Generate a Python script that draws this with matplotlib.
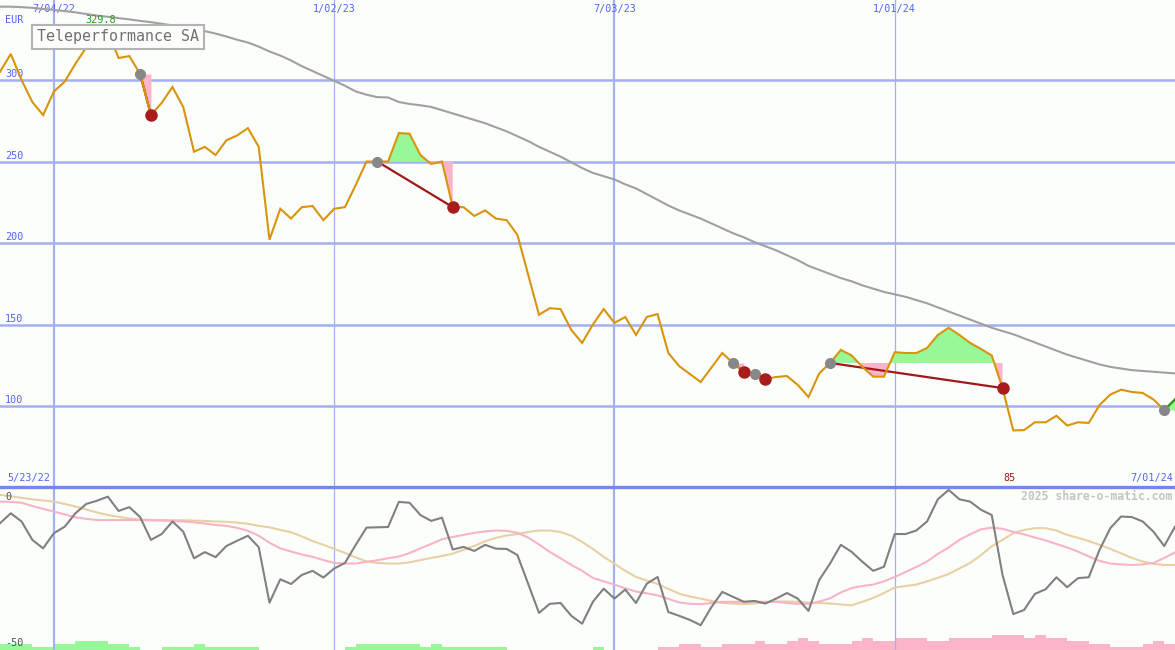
import matplotlib
matplotlib.use('Agg')
import matplotlib.pyplot as plt
import pandas as pd

# ---------------- data ----------------
weeks = pd.date_range('2022-05-30', periods=110, freq='W-MON')

price = [305, 316, 300, 286.5, 278.5, 293, 299, 310, 320, 324.5,
         329.8, 313.5, 314.7, 303.7, 278.5, 286, 295.7, 283.4, 256, 259,
         254, 263, 266, 270.5, 259, 202, 221, 215, 222, 222.7,
         214, 221, 222, 235.6, 250, 250, 250, 267.5, 267, 254,
         248.5, 250, 222, 222, 216.6, 220, 215, 214, 205, 180.5,
         156, 160, 159.5, 146.6, 138.7, 150, 159.5, 151, 154.6, 143.6,
         154.6, 156.4, 132.5, 124.5, 119.6, 114.7, 123.6, 132.5, 126.4, 121,
         119.6, 116.6, 117.8, 118.4, 113, 105.5, 120, 126.4, 134.4, 131,
         124, 118, 118, 133, 132.5, 132.5, 135.6, 143.6, 148, 143.6,
         138.7, 135, 131, 111, 85.0, 85.2, 90, 90, 94, 88,
         90, 89.6, 100.6, 107, 110, 108.6, 108, 104, 97.5, 104]

ma_long = [345, 345, 344.7, 344.3, 343.6, 343, 342.3, 341.5, 340.5, 339.5,
           338.8, 338, 337.2, 336.3, 335.5, 334.5, 333.5, 332.5, 331.3, 330,
           328.5, 326.7, 324.7, 323, 320.5, 317.5, 315, 312, 308.5, 305.5,
           302.5, 299.5, 296.5, 293, 291, 289.5, 289.3, 286.5, 285.3, 284.5,
           283.5, 281.5, 279.5, 277.5, 275.5, 273.5, 271, 268.5, 265.5, 262.5,
           259, 256, 253, 249.5, 246, 243, 241, 239, 236, 233.5,
           230, 226.5, 223, 220, 217.5, 215, 212, 209, 206, 203.5,
           200.5, 198, 195.5, 192.5, 189.5, 186, 183.5, 181, 178.5, 176.5,
           174, 172, 170, 168.5, 167, 165, 163, 160.5, 158, 155.5,
           153, 150.5, 148, 146, 144, 141.5, 139, 136.5, 134, 131.5,
           129.5, 127.5, 125.5, 124, 123, 122, 121.5, 121, 120.5, 120]

osc = [-7.3, -3.9, -6.7, -13.0, -15.9, -10.7, -8.5, -3.9, -0.7, 0.4,
       1.8, -3.1, -1.8, -5.2, -13.0, -11.0, -6.7, -10.2, -19.3, -17.2,
       -18.9, -15.1, -13.3, -11.6, -15.5, -34.5, -26.5, -28.1, -25.0, -23.6,
       -25.9, -22.8, -20.9, -14.7, -8.8, -8.7, -8.6, 0.0, -0.3, -4.5,
       -6.5, -5.4, -16.3, -15.4, -16.8, -14.7, -16.0, -16.1, -18.2, -28.1,
       -38.0, -34.9, -34.6, -39.0, -41.7, -34.2, -29.7, -33.1, -30.0, -34.6,
       -28.0, -25.7, -37.7, -39.0, -40.4, -42.2, -36.0, -30.8, -32.5, -34.2,
       -33.9, -34.8, -33.1, -31.2, -33.1, -37.3, -26.7, -21.1, -14.7, -17.1,
       -20.5, -23.6, -22.2, -11.0, -11.0, -9.8, -6.7, 0.9, 4.1, 0.9,
       0.1, -2.7, -4.5, -25.0, -38.4, -37.0, -31.5, -29.9, -25.8, -29.2,
       -26.1, -25.8, -16.4, -9.0, -5.0, -5.2, -6.7, -10.2, -15.1, -8.5]

osc_fast = [0.1, 0.0, -0.3, -1.4, -2.4, -3.3, -4.3, -5.3, -5.8, -6.2,
            -6.2, -6.2, -6.2, -6.2, -6.3, -6.4, -6.5, -6.7, -7.0, -7.4,
            -7.9, -8.2, -8.9, -9.9, -11.6, -14.0, -15.9, -17.0, -18.0, -18.8,
            -19.9, -20.9, -21.1, -21.1, -20.5, -20.0, -19.3, -18.7, -17.5, -15.9,
            -14.4, -12.8, -12.0, -11.3, -10.6, -10.1, -9.8, -9.9, -10.6, -12.2,
            -14.6, -17.1, -19.3, -21.6, -23.6, -26.0, -27.2, -28.3, -29.6, -30.7,
            -31.3, -32.0, -33.2, -34.4, -34.9, -35.0, -34.6, -34.2, -34.2, -34.2,
            -34.2, -34.2, -34.2, -34.6, -34.9, -34.9, -34.1, -33.0, -31.0, -29.5,
            -28.8, -28.3, -27.2, -25.7, -24.0, -22.3, -20.4, -17.8, -15.6, -13.0,
            -11.1, -9.4, -8.8, -9.2, -10.3, -11.1, -12.2, -13.2, -14.4, -15.6,
            -17.0, -18.7, -20.2, -21.1, -21.4, -21.6, -21.4, -20.9, -19.2, -17.3]

osc_slow = [2.4, 1.9, 1.4, 0.9, 0.5, 0.1, -0.7, -1.6, -2.6, -3.6,
            -4.5, -5.1, -5.7, -6.0, -6.2, -6.2, -6.3, -6.3, -6.4, -6.5,
            -6.7, -6.8, -7.1, -7.5, -8.2, -8.7, -9.6, -10.4, -11.8, -13.4,
            -14.7, -16.1, -17.5, -19.0, -20.4, -20.9, -21.1, -21.1, -20.7, -19.9,
            -19.2, -18.5, -17.7, -16.4, -15.1, -13.5, -12.3, -11.5, -11.0, -10.3,
            -9.8, -9.8, -10.3, -11.6, -13.7, -16.1, -18.8, -21.2, -23.6, -25.7,
            -26.9, -28.1, -29.8, -31.4, -32.4, -33.1, -33.9, -34.6, -34.8, -35.0,
            -34.8, -34.4, -34.1, -34.1, -34.2, -34.5, -34.6, -34.8, -35.1, -35.4,
            -34.2, -32.9, -31.2, -29.3, -28.8, -28.3, -27.2, -26.0, -24.7, -22.8,
            -20.9, -18.2, -15.2, -13.0, -10.7, -9.6, -9.0, -9.0, -9.8, -11.3,
            -12.3, -13.4, -14.7, -16.1, -17.6, -19.2, -20.4, -21.2, -21.6, -21.6]

momentum = [2, 2, 2, 1, 1, 2, 2, 3, 3, 3,
            2, 2, 1, 0, 0, 1, 1, 1, 2, 1,
            1, 1, 1, 1, 0, 0, 0, 0, 0, 0,
            0, 0, 1, 2, 2, 2, 2, 2, 2, 1,
            2, 1, 1, 1, 1, 1, 1, 0, 0, 0,
            0, 0, 0, 0, 0, 1, 0, 0, 0, 0,
            0, -1, -1, -2, -2, -1, -1, -2, -2, -2,
            -3, -2, -2, -3, -4, -3, -2, -2, -2, -3,
            -4, -3, -3, -4, -4, -4, -3, -3, -4, -4,
            -4, -4, -5, -5, -5, -4, -5, -4, -4, -3,
            -3, -2, -2, -1, -1, -1, -2, -3, -2, -2]

trade_entries = [13, 35, 68, 70, 77, 108]
trade_exits = [14, 42, 69, 71, 93, None]

date_ticks = ['2022-07-04', '2023-01-02', '2023-07-03', '2024-01-01']
date_labels = ['7/04/22', '1/02/23', '7/03/23', '1/01/24']
price_levels = [100, 150, 200, 250, 300]
osc_levels = [0, -50]
title = 'Teleperformance SA'
currency = 'EUR'
start_label = '5/23/22'
end_label = '7/01/24'
watermark = '2025 share-o-matic.com'

# ---------------- style ----------------
W, H = 1175, 650
TOP_H = 487
BG = '#fcfefc'
GRID = '#a4b0f0'
LABEL = '#5564f0'
ORANGE = '#d8940a'
MONO = 'DejaVu Sans Mono'

x = list(range(len(price)))
tick_x = [weeks.get_loc(pd.Timestamp(d)) for d in date_ticks]

fig = plt.figure(figsize=(W / 100, H / 100), dpi=100)
fig.patch.set_facecolor(BG)
ax = fig.add_axes([0, (H - TOP_H) / H, 1, TOP_H / H])
axb = fig.add_axes([0, 0, 1, (H - TOP_H) / H])

for a in (ax, axb):
    a.set_facecolor(BG)
    a.set_xlim(0, len(price) - 1)
    a.set_xticks([])
    a.set_yticks([])
    for s in a.spines.values():
        s.set_visible(False)

ax.set_ylim(50.3, 349.1)
axb.set_ylim(-50.7, 5.1)

# grid
for lv in price_levels:
    ax.axhline(lv, color=GRID, lw=1.8, zorder=1)
for tx, lab in zip(tick_x, date_labels):
    lw = 1.6 if lab.startswith('7/') else 0.9
    ax.axvline(tx, color=GRID, lw=lw, zorder=1)
    axb.axvline(tx, color=GRID, lw=lw, zorder=1)
    ax.annotate(lab, xy=(tx, 1), xycoords=('data', 'axes fraction'),
                xytext=(0, -4), textcoords='offset pixels', ha='center', va='top',
                fontsize=7.3, family=MONO, color=LABEL)

# price level labels
for lv in price_levels:
    ax.annotate(str(lv), xy=(0, lv), xycoords=('axes fraction', 'data'),
                xytext=(5, 1), textcoords='offset pixels', ha='left', va='bottom',
                fontsize=7.3, family=MONO, color=LABEL)
ax.annotate(currency, xy=(0, 1), xycoords='axes fraction', xytext=(5, -20),
            textcoords='offset pixels', ha='left', va='center',
            fontsize=7.3, family=MONO, color=LABEL)
ax.annotate(start_label, xy=(0, 0), xycoords='axes fraction', xytext=(7, 9),
            textcoords='offset pixels', ha='left', va='center',
            fontsize=7.3, family=MONO, color=LABEL)
ax.annotate(end_label, xy=(1, 0), xycoords='axes fraction', xytext=(-2, 9),
            textcoords='offset pixels', ha='right', va='center',
            fontsize=7.3, family=MONO, color=LABEL)

# trades: fills
for e, xo in zip(trade_entries, trade_exits):
    end = xo if xo is not None else len(price) - 1
    xs = x[e:end + 1]
    ps = price[e:end + 1]
    lvl = [price[e]] * len(xs)
    ax.fill_between(xs, ps, lvl, where=[p >= price[e] for p in ps], interpolate=True,
                    color='#98f898', lw=0, zorder=2)
    ax.fill_between(xs, ps, lvl, where=[p <= price[e] for p in ps], interpolate=True,
                    color='#fcb4c8', lw=0, zorder=2)

# long moving average and price
ax.plot(x, ma_long, color='#a0a0a0', lw=1.5, zorder=3)

# trade connecting lines (under the price line)
for e, xo in zip(trade_entries, trade_exits):
    if xo is not None:
        ax.plot([e, xo], [price[e], price[xo]], color='#a01818', lw=1.6, zorder=3.5)

ax.plot(x, price, color=ORANGE, lw=1.5, zorder=4, solid_joinstyle='miter')

for e, xo in zip(trade_entries, trade_exits):
    if xo is None:
        last = len(price) - 1
        ax.plot([e, last], [price[e], price[last]], color='#20a020', lw=1.6, zorder=5)
for e, xo in zip(trade_entries, trade_exits):
    ax.plot(e, price[e], 'o', ms=7, color='#888888', zorder=6, mec='#888888')
    if xo is not None:
        ax.plot(xo, price[xo], 'o', ms=8, color='#a81c1c', mec='#a81c1c', zorder=6)

# max / min labels
imax = max(range(len(price)), key=lambda i: price[i])
imin = min(range(len(price)), key=lambda i: price[i])
ax.annotate(f'{price[imax]:g}', xy=(imax, 1), xycoords=('data', 'axes fraction'),
            xytext=(-7, -20), textcoords='offset pixels', ha='center', va='center',
            fontsize=7.3, family=MONO, color='#20a020')
ax.annotate(f'{price[imin]:.0f}', xy=(imin, 0), xycoords=('data', 'axes fraction'),
            xytext=(-4, 9), textcoords='offset pixels', ha='center', va='center',
            fontsize=7.3, family=MONO, color='#a01818')

# title box
ax.annotate(title, xy=(0, 1), xycoords='axes fraction', xytext=(37, -37),
            textcoords='offset pixels', ha='left', va='center',
            fontsize=10.8, family=MONO, color='#707070', zorder=8,
            bbox=dict(boxstyle='square,pad=0.32', fc='#fcfefc', ec='#b4b4b4', lw=1.5))

# ---------------- lower panel ----------------
axm = axb.twinx()
axm.set_ylim(0, (H - TOP_H) / 3)
axm.set_yticks([])
for s in axm.spines.values():
    s.set_visible(False)
axm.bar(x, [abs(m) for m in momentum], width=1.0, align='edge',
        color=['#98f898' if m > 0 else '#fcb4c8' for m in momentum], lw=0)
axm.set_xlim(0, len(price) - 1)

axb.set_zorder(axm.get_zorder() + 1)
axb.patch.set_visible(False)
axm.patch.set_visible(True)
axm.patch.set_facecolor(BG)

axb.plot(x, osc_slow, color='#e8d0a4', lw=1.5, zorder=3)
axb.plot(x, osc_fast, color='#f8b4c4', lw=1.5, zorder=3)
axb.plot(x, osc, color='#808080', lw=1.5, zorder=4)

# panel divider
axb.spines['top'].set_visible(True)
axb.spines['top'].set_color('#7484f0')
axb.spines['top'].set_linewidth(2.4)
axb.spines['top'].set_zorder(10)

for lv in osc_levels:
    axb.annotate(str(lv), xy=(0, lv), xycoords=('axes fraction', 'data'),
                 xytext=(5, 0), textcoords='offset pixels', ha='left', va='bottom',
                 fontsize=7.3, family=MONO, color='#505050')

axb.annotate(watermark, xy=(1, 1), xycoords='axes fraction', xytext=(-3, -9),
             textcoords='offset pixels', ha='right', va='center',
             fontsize=8.3, family=MONO, fontweight='bold', color='#c4c4c4')

fig.savefig('out.png', dpi=100, facecolor=BG)
